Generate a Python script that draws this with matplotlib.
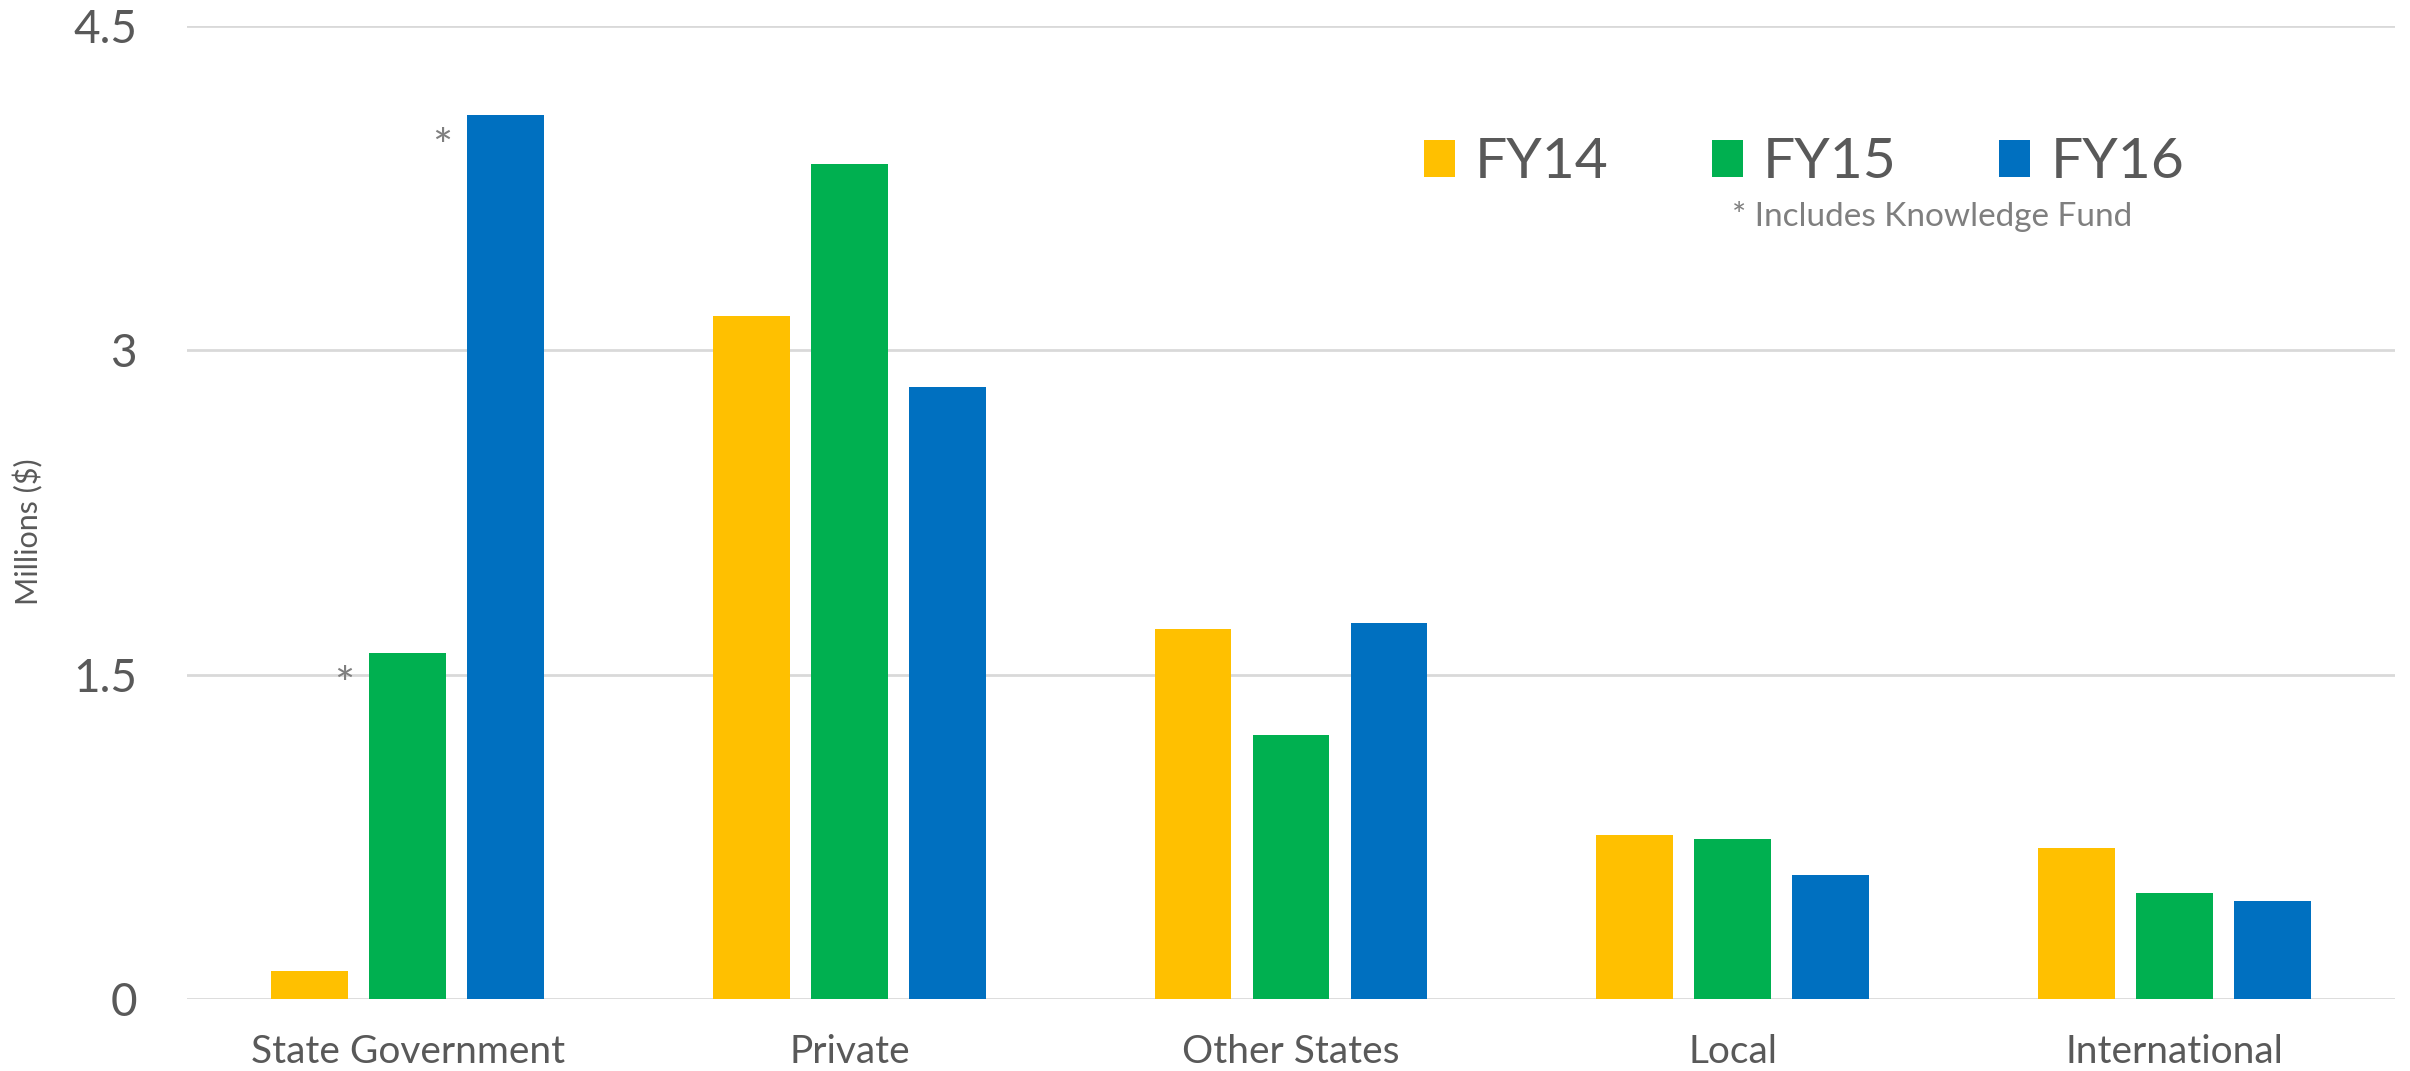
import matplotlib
matplotlib.use("Agg")
import matplotlib.pyplot as plt
from matplotlib.patches import Patch
import numpy as np

categories = ["State Government", "Private", "Other States", "Local", "International"]
series_names = ["FY14", "FY15", "FY16"]
fy14 = [0.13, 3.16, 1.71, 0.76, 0.70]
fy15 = [1.60, 3.86, 1.22, 0.74, 0.49]
fy16 = [4.09, 2.83, 1.74, 0.575, 0.455]
yticks = [0, 1.5, 3, 4.5]
ytick_labels = ["0", "1.5", "3", "4.5"]
colors = ["#FFC000", "#00B050", "#0070C0"]
footnote = "* Includes Knowledge Fund"

plt.rcParams['font.family'] = ['Lato', 'DejaVu Sans']
TXT = "#595959"

fig = plt.figure(figsize=(24.10, 10.71), dpi=100)
ax = fig.add_axes([187/2410, 1-999/1071, (2395-187)/2410, (999-26)/1071])

x = np.arange(len(categories))
w = 0.174
off = 0.222
data = [fy14, fy15, fy16]
for k, (vals, c) in enumerate(zip(data, colors)):
    ax.bar(x + (k-1)*off, vals, width=w, color=c, zorder=3)

# asterisks for Knowledge Fund
for k, vals in [(1, fy15), (2, fy16)]:
    xb = x[0] + (k-1)*off - w/2 - 0.035
    ax.text(xb, vals[0] - 0.06, "*", ha="right", va="top", fontsize=34, color="#7F7F7F")

ax.set_xlim(-0.5, len(categories)-0.5)
ax.set_ylim(0, 4.5)
ax.set_yticks(yticks)
ax.set_yticklabels(ytick_labels)
ax.set_xticks(x)
ax.set_xticklabels(categories)
ax.tick_params(axis='y', length=0, pad=36, labelsize=33, labelcolor=TXT)
ax.tick_params(axis='x', length=0, pad=25, labelsize=28, labelcolor=TXT)
for s in ax.spines.values():
    s.set_visible(False)
ax.grid(axis='y', color="#D9D9D9", linewidth=2, zorder=0)
ax.set_axisbelow(True)
fig.text(28/2410, 1-532/1071, "Millions ($)", rotation=90, ha='center', va='center',
         fontsize=22, color=TXT)

handles = [Patch(facecolor=c, edgecolor='none') for c in colors]
fig.legend(handles, series_names, loc='center left', bbox_to_anchor=(1424/2410, 1-163/1071),
           ncol=3, frameon=False, fontsize=41, labelcolor=TXT, borderpad=0, borderaxespad=0,
           handlelength=0.55, handleheight=0.6, handletextpad=0.35, columnspacing=1.8)
fig.text(1732/2410, 1-217/1071, footnote, ha='left', va='center', fontsize=24, color="#7F7F7F")

fig.savefig("out.png", dpi=100)
